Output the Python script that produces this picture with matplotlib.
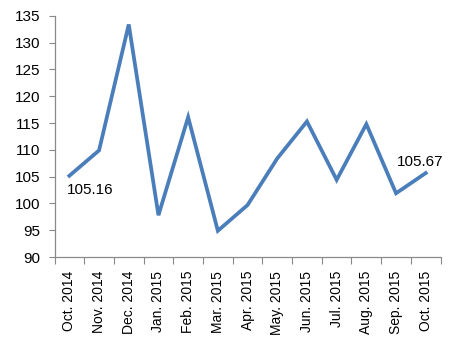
import numpy as np
import matplotlib.pyplot as plt

# ── Data ─────────────────────────────────────────────────────────────────────
months = ["Oct. 2014", "Nov. 2014", "Dec. 2014", "Jan. 2015", "Feb. 2015",
          "Mar. 2015", "Apr. 2015", "May. 2015", "Jun. 2015", "Jul. 2015",
          "Aug. 2015", "Sep. 2015", "Oct. 2015"]
values = [105.16, 109.9, 133.4, 97.8, 116.1, 94.9, 99.7,
          108.4, 115.3, 104.4, 114.8, 101.9, 105.67]
y_ticks = [90, 95, 100, 105, 110, 115, 120, 125, 130, 135]

plt.rcParams["font.family"] = ["Liberation Sans", "DejaVu Sans"]
AXIS_GREY = "#898989"
LINE_BLUE = "#4A7EBB"

fig = plt.figure(figsize=(4.58, 3.61), dpi=100)
ax = fig.add_axes([0.119, 0.288, 0.843, 0.668])

x = np.arange(len(months))
ax.plot(x, values, color=LINE_BLUE, linewidth=2.7, solid_joinstyle="miter")

# data labels on first and last points
ax.annotate(f"{values[0]:.2f}", (x[0], values[0]), xytext=(-2, -5),
            textcoords="offset points", ha="left", va="top", fontsize=11)
ax.annotate(f"{values[-1]:.2f}", (x[-1], values[-1]), xytext=(-4, 3),
            textcoords="offset points", ha="center", va="bottom", fontsize=11)

ax.set_xlim(-0.5, len(months) - 0.5)
ax.set_ylim(90, 135)
ax.set_yticks(y_ticks)
ax.tick_params(axis="y", labelsize=11, length=4, color=AXIS_GREY, pad=6)

# Excel-style ticks between categories, labels at centres
ax.set_xticks(np.arange(-0.5, len(months)))
ax.set_xticklabels([])
ax.set_xticks(x, minor=True)
ax.set_xticklabels(months, minor=True, rotation=90, fontsize=10)
ax.tick_params(axis="x", which="major", length=5, color=AXIS_GREY)
ax.tick_params(axis="x", which="minor", length=0, pad=10)

for side in ["top", "right"]:
    ax.spines[side].set_visible(False)
for side in ["left", "bottom"]:
    ax.spines[side].set_color(AXIS_GREY)
    ax.spines[side].set_linewidth(0.9)

fig.savefig("out.png", dpi=100)
